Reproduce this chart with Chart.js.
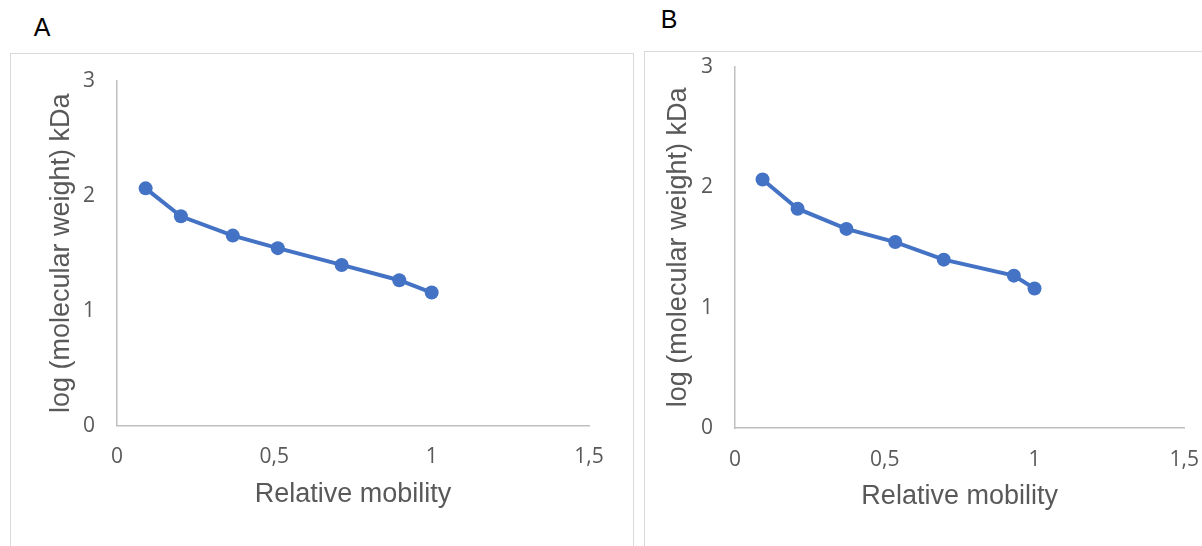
<!DOCTYPE html>
<html>
<head>
<meta charset="utf-8">
<script src="https://cdn.jsdelivr.net/npm/chart.js@4.4.0/dist/chart.umd.min.js"></script>
<style>
	body { margin: 0; background: #fff; width: 1202px; height: 546px; position: relative; overflow: hidden; }
	.panel-box { position: absolute; border: 1px solid #d9d9d9; }
	.panel-letter { position: absolute; font: 25px "Liberation Sans", Arial, sans-serif; color: #000; transform: translate(-50%, -50%); }
	canvas { position: absolute; }
</style>
</head>
<body>
<div class="panel-box" style="left:10px;top:53px;width:622px;height:520px;"></div>
<div class="panel-box" style="left:644px;top:51px;width:600px;height:520px;"></div>
<div class="panel-letter" style="left:42px;top:27px;">A</div>
<div class="panel-letter" style="left:669px;top:19px;">B</div>
<canvas id="chartA" width="623" height="513" style="left:10px;top:33px;"></canvas>
<canvas id="chartB" width="600" height="515" style="left:644px;top:31px;"></canvas>
<script>
// log10 of the marker sizes (kDa), same ladder on both gels
const logWeight = [2.064, 1.821, 1.653, 1.544, 1.398, 1.265, 1.158];
// relative mobility of each band
const mobilityA = [0.091, 0.203, 0.368, 0.511, 0.714, 0.897, 1.0];
const mobilityB = [0.092, 0.209, 0.372, 0.535, 0.697, 0.931, 1.0];

const xTitle = 'Relative mobility';
const yTitle = 'log (molecular weight) kDa';

const BLUE = '#4472c4';
const AXIS = '#bfbfbf';
const TEXT = '#595959';
const tickFont = { family: '"Open Sans", sans-serif', size: 21 };
const titleFont = { family: '"Liberation Sans", Arial, sans-serif', size: 27 };

function buildChart (canvasId, xValues, box)
{
	const points = xValues.map((x, i) => ({ x, y: logWeight[i] }));
	const chart = new Chart(document.getElementById(canvasId), {
		type: 'scatter',
		data: {
			datasets: [
				{
					data: points,
					showLine: true,
					tension: 0,
					borderColor: BLUE,
					backgroundColor: BLUE,
					borderWidth: 4,
					pointRadius: 7,
					pointHoverRadius: 7,
					pointBorderWidth: 0
				}
			]
		},
		options: {
			responsive: false,
			animation: false,
			devicePixelRatio: 1,
			layout: { padding: { left: 0, top: box.top, right: box.right, bottom: 0 } },
			plugins: { legend: { display: false }, tooltip: { enabled: false } },
			scales: {
				x: {
					type: 'linear',
					min: 0,
					max: 1.5,
					grid: { display: false, drawTicks: false },
					border: { display: true, color: AXIS, width: 1.5 },
					ticks: {
						stepSize: 0.5,
						padding: 19,
						maxRotation: 0,
						color: TEXT,
						font: tickFont,
						callback: v => String(v).replace('.', ',')
					},
					title: { display: true, text: xTitle, color: TEXT, font: titleFont, padding: { top: 0, bottom: box.xTitlePad } },
					afterFit: s => { s.height = box.xHeight; }
				},
				y: {
					type: 'linear',
					min: 0,
					max: 3,
					grid: { display: false, drawTicks: false },
					border: { display: true, color: AXIS, width: 1.5 },
					ticks: { stepSize: 1, padding: 22, color: TEXT, font: tickFont },
					title: { display: true, text: yTitle, color: TEXT, font: titleFont, padding: { top: box.yTitlePad, bottom: 0 } },
					afterFit: s => { s.width = box.yWidth; }
				}
			}
		}
	});

	// nudge the padding so the plot area lands where it should
	const area = chart.chartArea;
	const pad = chart.options.layout.padding;
	pad.top += box.top - area.top;
	pad.right += area.right - (chart.width - box.right);
	chart.update();
	return chart;
}

buildChart('chartA', mobilityA, { top: 47.7, right: 44, yWidth: 107, xHeight: 120.3, xTitlePad: 34.8, yTitlePad: 35.8 });
buildChart('chartB', mobilityB, { top: 35.7, right: 59.7, yWidth: 91, xHeight: 118, xTitlePad: 32.8, yTitlePad: 18.8 });
</script>
</body>
</html>
